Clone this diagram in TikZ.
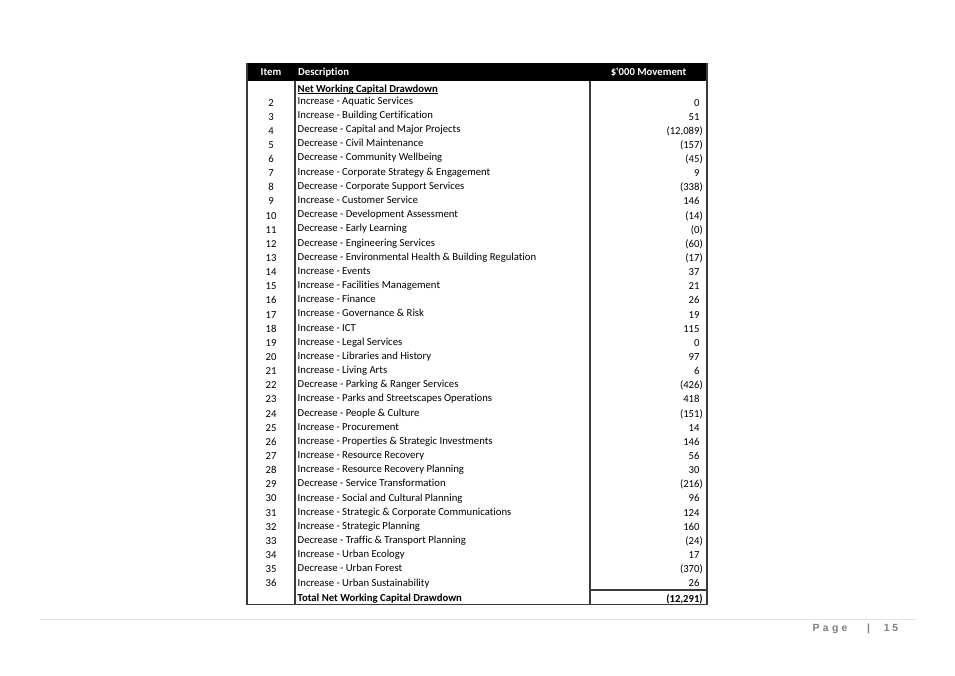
\documentclass[tikz,border=0pt]{standalone}
\usepackage{fontspec}
\setmainfont{Carlito}[Ligatures={NoCommon}]
\newfontfamily\pagefont{Liberation Sans}
\definecolor{rulegray}{HTML}{3A3A3A}
\definecolor{footgray}{HTML}{7F7F7F}
\definecolor{footline}{HTML}{E3E3E3}
\newcommand\rsp{\phantom{)}}
\newcommand\lsp{\hspace{3.3pt}}
\begin{document}
\begin{tikzpicture}[x=1pt,y=-1pt,
  cell/.style={inner sep=0pt, font=\fontsize{10.7}{12}\selectfont},
  bcell/.style={inner sep=0pt, font=\fontsize{10.7}{12}\selectfont\bfseries},
  itemcell/.style={cell, anchor=base},
  desccell/.style={cell, anchor=base west},
  amtcell/.style={cell, anchor=base east},
  head/.style={bcell, text=white},
  border/.style={draw=rulegray, line width=1.2pt},
  pagetext/.style={inner sep=0pt, text=footgray, font=\pagefont\bfseries\fontsize{10.4}{12}\selectfont}]
\useasboundingbox (0,0) rectangle (955,675);
\fill[white] (0,0) rectangle (955,675);
% header bar
\fill[black] (247,63) rectangle (707,80.5);
\node[head, anchor=base] (hitem) at (271,75.5) {Item};
\node[head, anchor=base west] (hdesc) at (298,75.5) {Description};
\node[head, anchor=base] (hamt) at (648.5,75.5) {\$\textquotesingle000 Movement};
% section title
\node[bcell, anchor=base west] (net) at (297.5,92) {Net Working Capital Drawdown};
\draw[line width=0.7pt] ([yshift=-1.4pt]net.base west) -- ([yshift=-1.4pt]net.base east);
% rows
\foreach \n/\d/\a [count=\k from 0] in {
 2/{Increase - Aquatic Services}/{0\rsp},
 3/{Increase - Building Certification}/{51\rsp},
 4/{Decrease - Capital and Major Projects}/{(12,089)},
 5/{Decrease - Civil Maintenance}/{(157)},
 6/{Decrease - Community Wellbeing}/{(45)},
 7/{Increase - Corporate Strategy \& Engagement}/{9\rsp},
 8/{Decrease - Corporate Support Services}/{(338)},
 9/{Increase - Customer Service}/{146\rsp},
 10/{Decrease - Development Assessment}/{(14)},
 11/{Decrease - Early Learning}/{(0)},
 12/{Decrease - Engineering Services}/{(60)},
 13/{Decrease - Environmental Health \& Building Regulation}/{(17)},
 14/{Increase - Events}/{37\rsp},
 15/{Increase - Facilities Management}/{21\rsp},
 16/{Increase - Finance}/{26\rsp},
 17/{Increase - Governance \& Risk}/{19\rsp},
 18/{Increase - ICT}/{115\rsp},
 19/{Increase - Legal Services}/{0\rsp},
 20/{Increase - Libraries and History}/{97\rsp},
 21/{Increase - Living Arts}/{6\rsp},
 22/{Decrease - Parking \& Ranger Services}/{(426)},
 23/{Increase - Parks and Streetscapes Operations}/{418\rsp},
 24/{Decrease - People \& Culture}/{(151)},
 25/{Increase - Procurement}/{14\rsp},
 26/{Increase - Properties \& Strategic Investments}/{146\rsp},
 27/{Increase - Resource Recovery}/{56\rsp},
 28/{Increase - Resource Recovery Planning}/{30\rsp},
 29/{Decrease - Service Transformation}/{(216)},
 30/{Increase - Social and Cultural Planning}/{96\rsp},
 31/{Increase - Strategic \& Corporate Communications}/{124\rsp},
 32/{Increase - Strategic Planning}/{160\rsp},
 33/{Decrease - Traffic \& Transport Planning}/{(24)},
 34/{Increase - Urban Ecology}/{17\rsp},
 35/{Decrease - Urban Forest}/{(370)},
 36/{Increase - Urban Sustainability}/{26\rsp}}
{
  \node[itemcell] (item\n) at (271,106+14.14*\k) {\n};
  \node[desccell] (desc\n) at (297.5,104.3+14.17*\k) {\d};
  \node[amtcell] (amt\n) at (703,106+14.14*\k) {\a};
}
% total row
\node[bcell, anchor=base west] (totdesc) at (297.5,601) {Total Net Working Capital Drawdown};
\node[bcell, anchor=base east] (totamt) at (703,602.3) {(12,291)};
% table rules
\draw[border] (247,63) -- (247,604.5) -- (707,604.5) -- (707,63);
\draw[border] (295,80.5) -- (295,604.5);
\draw[border] (590,80.5) -- (590,604.5);
\draw[border] (590,590) -- (707,590);
% footer
\draw[footline, line width=1pt] (40,619.5) -- (915,619.5);
\node[pagetext, anchor=base west] (pageword) at (812.5,631.5) {P\lsp a\lsp g\lsp e};
\node[pagetext, anchor=base] (pagebar) at (868.5,631.5) {|};
\node[pagetext, anchor=base east] (pagenum) at (898.3,631.5) {1\hspace{2.6pt}5};
\end{tikzpicture}
\end{document}
